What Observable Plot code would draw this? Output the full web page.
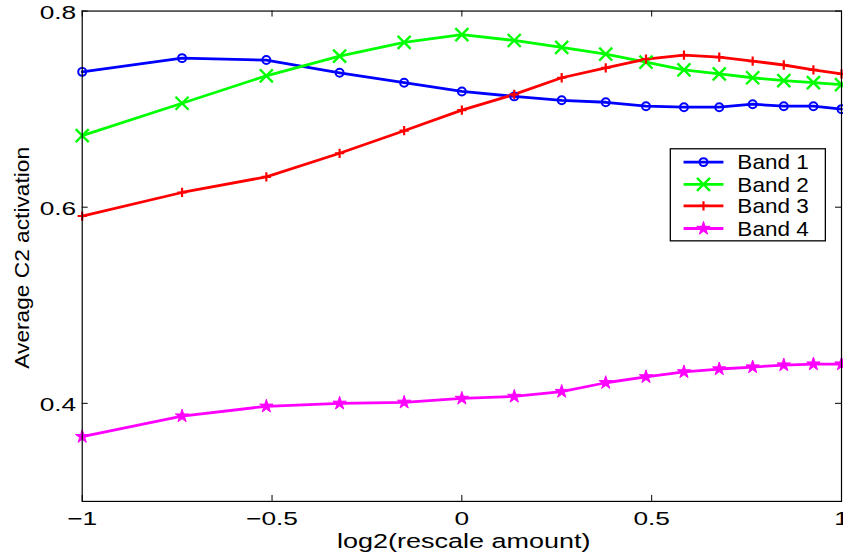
<!DOCTYPE html>
<html><head><meta charset="utf-8">
<script src="https://cdn.jsdelivr.net/npm/d3@7"></script>
<script src="https://cdn.jsdelivr.net/npm/@observablehq/plot@0.6"></script>
<style>html,body{margin:0;padding:0;overflow:hidden;background:#fff;width:843px;height:558px}</style>
</head><body><div id="chart"></div>
<script>
// log2(rescale amount) positions
const xValues = [-1, -0.737, -0.515, -0.322, -0.152, 0, 0.138, 0.263, 0.379, 0.485, 0.585, 0.678, 0.766, 0.848, 0.926, 1];
const band1 = [0.738, 0.752, 0.750, 0.737, 0.727, 0.718, 0.713, 0.709, 0.707, 0.703, 0.702, 0.702, 0.705, 0.703, 0.703, 0.700];
const band2 = [0.673, 0.706, 0.734, 0.754, 0.768, 0.776, 0.770, 0.763, 0.756, 0.748, 0.740, 0.736, 0.732, 0.729, 0.727, 0.725];
const band3 = [0.591, 0.615, 0.631, 0.655, 0.678, 0.699, 0.715, 0.732, 0.742, 0.751, 0.755, 0.753, 0.749, 0.745, 0.740, 0.736];
const band4 = [0.366, 0.387, 0.397, 0.400, 0.401, 0.405, 0.407, 0.412, 0.421, 0.427, 0.432, 0.435, 0.437, 0.439, 0.440, 0.440];
const bandNames = ["Band 1", "Band 2", "Band 3", "Band 4"];
const bandColors = ["#0000ff", "#00ff00", "#ff0000", "#ff00ff"];
const bandSymbols = ["circle", "times", "plus", "star"];
const xTicks = [-1, -0.5, 0, 0.5, 1];
const xTickLabels = ["\u22121", "\u22120.5", "0", "0.5", "1"];
const yTicks = [0.4, 0.6, 0.8];
const yTickLabels = ["0.4", "0.6", "0.8"];
const xLabel = "log2(rescale amount)";
const yLabel = "Average C2 activation";

const series = [band1, band2, band3, band4];
const data = series.flatMap((vals, i) => vals.map((v, j) => ({x: xValues[j], y: v, band: bandNames[i]})));

const W = 846, H = 558, mL = 82, mR = 2, mT = 10.6, mB = 55.3;
const plotW = W - mL - mR, plotH = H - mT - mB;
const tk = 6;
const font = "'Liberation Sans', Arial, Helvetica, sans-serif";

const symStyle = [
  {r: 4, fill: "none", strokeWidth: 2},
  {r: 6, fill: "none", strokeWidth: 2.4},
  {r: 3.1, fill: "none", strokeWidth: 2.2},
  {r: 4.2, fill: bandColors[3], strokeWidth: 1}
];

const dotMarks = bandNames.map((b, i) => Plot.dot(data.filter(d => d.band === b), {
  x: "x", y: "y", symbol: () => bandSymbols[i], stroke: bandColors[i],
  fill: symStyle[i].fill, r: symStyle[i].r, strokeWidth: symStyle[i].strokeWidth
}));

const chart = Plot.plot({
  width: W, height: H,
  marginLeft: mL, marginRight: mR, marginTop: mT, marginBottom: mB,
  style: {fontFamily: font, fontSize: "19px", color: "black", background: "white", overflow: "visible"},
  x: {domain: [-1, 1], axis: null},
  y: {domain: [0.3, 0.8], axis: null},
  symbol: {type: "identity"},
  marks: [
    Plot.line(data, {x: "x", y: "y", z: "band", stroke: d => bandColors[bandNames.indexOf(d.band)], strokeWidth: 2.8}),
    ...dotMarks,
    Plot.frame({stroke: "black", strokeWidth: 1.2}),
    Plot.tickX(xTicks, {x: d => d, stroke: "black", insetTop: plotH - tk}),
    Plot.tickX(xTicks, {x: d => d, stroke: "black", insetBottom: plotH - tk}),
    Plot.tickY(yTicks, {y: d => d, stroke: "black", insetRight: plotW - tk}),
    Plot.tickY(yTicks, {y: d => d, stroke: "black", insetLeft: plotW - tk}),
    Plot.axisX({ticks: xTicks, tickSize: 0, tickPadding: 10, label: null, fontSize: 18.6,
      tickFormat: d => xTickLabels[xTicks.indexOf(d)]}),
    Plot.axisY({ticks: yTicks, tickSize: 0, tickPadding: 6, label: null, fontSize: 18.6, dy: 2,
      tickFormat: d => yTickLabels[yTicks.indexOf(d)]}),
    Plot.text([xLabel], {text: d => d, frameAnchor: "bottom", lineAnchor: "top", textAnchor: "middle", dy: 32, dx: 2, fontSize: 21, ariaLabel: () => "xlabel"}),
    Plot.text([yLabel], {text: d => d, frameAnchor: "left", textAnchor: "middle", rotate: -90, dx: -59.5, dy: 1.6, fontSize: 20, ariaLabel: () => "ylabel"})
  ]
});

document.getElementById("chart").appendChild(chart);
const svg = d3.select(chart.tagName.toLowerCase() === "svg" ? chart : chart.querySelector("svg"));

function stretch(label, s) {
  svg.selectAll(`g[aria-label="${label}"] text, text[aria-label="${label}"]`).each(function() {
    let t = this.getAttribute("transform") || "";
    const x = this.getAttribute("x");
    if (x !== null && !isNaN(+x)) { t = `translate(${+x},0) ` + t; this.removeAttribute("x"); }
    this.setAttribute("transform", (t + ` scale(${s},1)`).trim());
  });
}
stretch("x-axis tick label", 1.42);
stretch("y-axis tick label", 1.42);
stretch("xlabel", 1.29);
stretch("ylabel", 1.14);

// legend
const lg = svg.append("g").attr("aria-label", "legend");
const bx = 672.7, by = 149.3, bw = 155.6, bh = 92.4;
lg.append("rect").attr("x", bx).attr("y", by).attr("width", bw).attr("height", bh)
  .attr("fill", "white").attr("stroke", "black").attr("stroke-width", 1.3);
const rows = [162.7, 185, 206.7, 229.3];
const d3sym = {circle: d3.symbolCircle, times: d3.symbolTimes, plus: d3.symbolPlus, star: d3.symbolStar};
bandNames.forEach((b, i) => {
  const cy = rows[i];
  lg.append("line").attr("x1", 686).attr("x2", 726).attr("y1", cy).attr("y2", cy)
    .attr("stroke", bandColors[i]).attr("stroke-width", 2.8);
  const st = symStyle[i];
  lg.append("path").attr("transform", `translate(706,${cy})`)
    .attr("d", d3.symbol(d3sym[bandSymbols[i]], Math.PI * st.r * st.r)())
    .attr("fill", st.fill).attr("stroke", bandColors[i]).attr("stroke-width", st.strokeWidth);
  lg.append("text").attr("transform", `translate(740,${cy + 7.2}) scale(1.13,1)`)
    .attr("text-anchor", "start")
    .attr("font-size", 20).attr("font-family", font).attr("fill", "black").text(b);
});
</script></body></html>
